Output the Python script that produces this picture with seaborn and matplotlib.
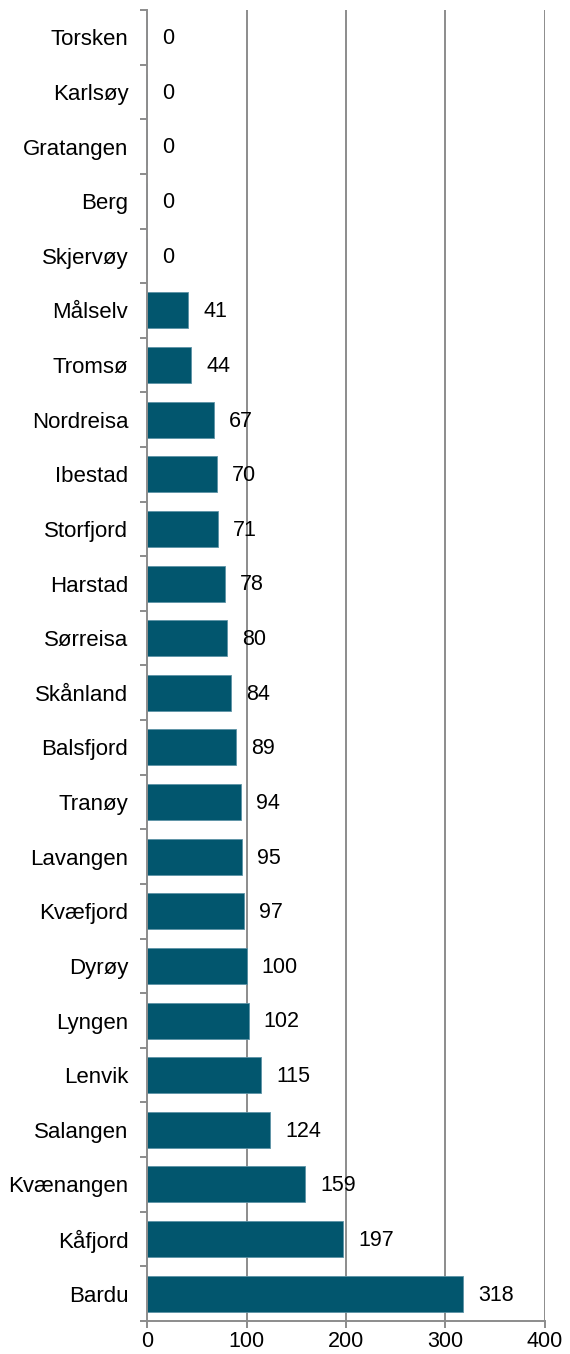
import matplotlib
matplotlib.use("Agg")
import matplotlib.pyplot as plt
from matplotlib.ticker import FixedLocator
import seaborn as sns
import pandas as pd
import numpy as np

# kommuner og verdier (topp til bunn)
kommuner = ["Torsken", "Karlsøy", "Gratangen", "Berg", "Skjervøy", "Målselv",
            "Tromsø", "Nordreisa", "Ibestad", "Storfjord", "Harstad", "Sørreisa",
            "Skånland", "Balsfjord", "Tranøy", "Lavangen", "Kvæfjord", "Dyrøy",
            "Lyngen", "Lenvik", "Salangen", "Kvænangen", "Kåfjord", "Bardu"]
verdier = [0, 0, 0, 0, 0, 41, 44, 67, 70, 71, 78, 80, 84, 89, 94, 95, 97, 100,
           102, 115, 124, 159, 197, 318]
x_ticks = [0, 100, 200, 300, 400]

df = pd.DataFrame({"Kommune": kommuner, "Verdi": verdier})

sns.set_style("white")
plt.rcParams['font.family'] = ['Liberation Sans', 'DejaVu Sans']
plt.rcParams['text.color'] = "black"
plt.rcParams['xtick.labelcolor'] = "black"
plt.rcParams['ytick.labelcolor'] = "black"

fig = plt.figure(figsize=(5.7, 13.54), dpi=100)
ax = fig.add_axes([0.258, 0.0244, 0.698, 0.9682])

grid_col = "#8c8c8c"
for t in x_ticks[1:]:
    ax.axvline(t, color=grid_col, lw=1.4, zorder=0)

sns.barplot(data=df, x="Verdi", y="Kommune", orient="h", color="#02566E",
            width=0.66, edgecolor="#5d93a6", linewidth=0.6, saturation=1, ax=ax)

for i, v in enumerate(verdier):
    ax.annotate(str(v), xy=(v, i), xytext=(11, -1), textcoords="offset points",
                ha="left", va="center", fontsize=15.5, color="black")

ax.set_xlim(0, 400)
ax.set_ylim(len(kommuner) - 0.5, -0.5)
ax.set_xticks(x_ticks)
ax.set_xlabel("")
ax.set_ylabel("")

# ticks mellom kategoriene
ax.yaxis.set_minor_locator(FixedLocator(np.arange(-0.5, len(kommuner), 1)))
ax.tick_params(axis="y", which="major", length=0, pad=13.5, labelsize=16)
ax.tick_params(axis="y", which="minor", length=5, width=1.4, color=grid_col, left=True)
ax.tick_params(axis="x", which="major", length=5, width=1.4, color=grid_col,
               bottom=True, labelsize=15.5, pad=2)

for s in ["top", "right"]:
    ax.spines[s].set_visible(False)
for s in ["left", "bottom"]:
    ax.spines[s].set_color(grid_col)
    ax.spines[s].set_linewidth(1.4)

fig.savefig("out.png", dpi=100)
